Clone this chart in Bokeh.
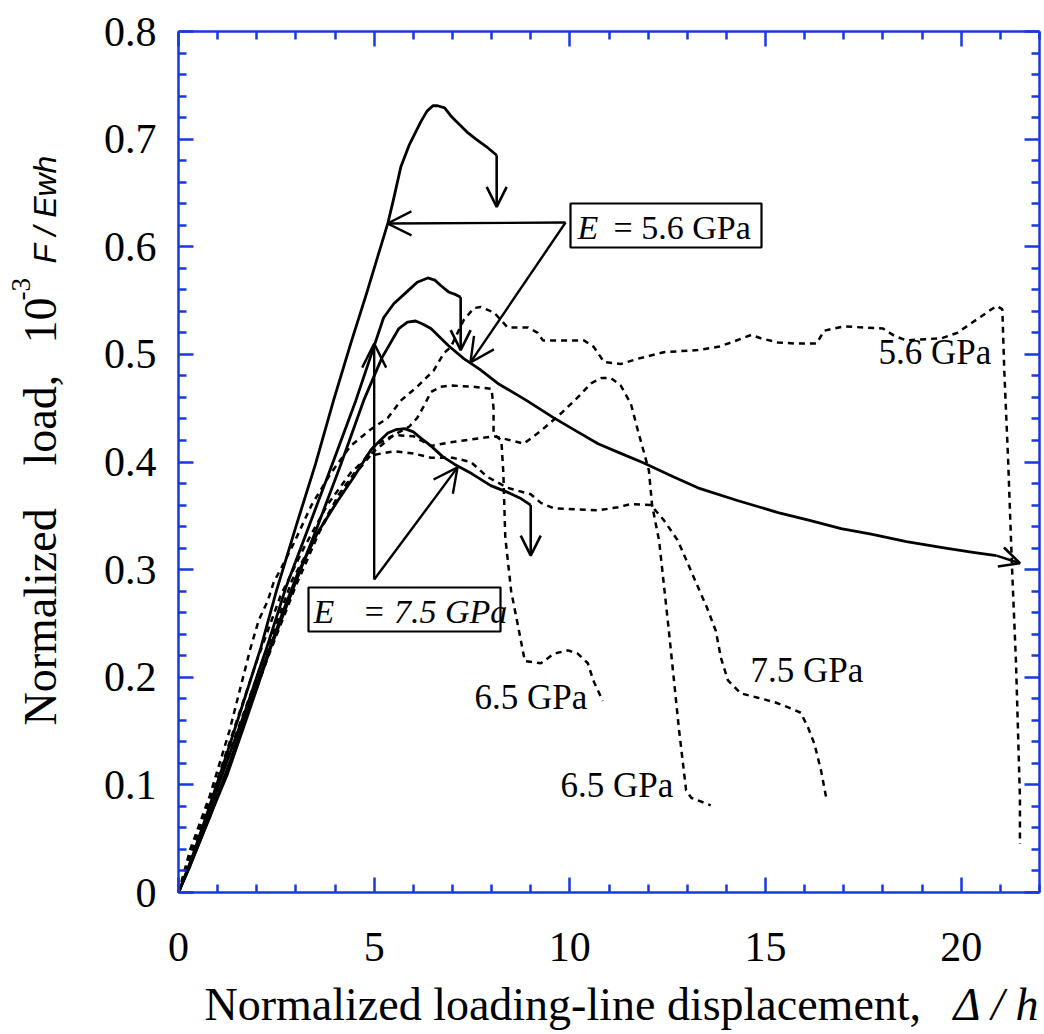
import math
from bokeh.plotting import figure
from bokeh.models import (LinearAxis, FixedTicker, Arrow, OpenHead, Label,
                          BoxAnnotation, Range1d)
from bokeh.embed import file_html
from bokeh.resources import INLINE

# ---------------- data ----------------
# solid curves
s1_x = [0, 0.3, 0.7, 1.2, 1.6, 2.1, 2.5, 3.0, 3.5, 3.96, 4.4, 4.8, 5.1, 5.35, 5.5, 5.68, 5.9, 6.19, 6.35, 6.5, 6.62, 6.8, 6.95, 7.08, 7.25, 7.39, 7.6, 7.9, 8.13]
s1_y = [0, 0.028, 0.07, 0.125, 0.17, 0.227, 0.28, 0.34, 0.398, 0.457, 0.51, 0.556, 0.592, 0.622, 0.645, 0.674, 0.695, 0.716, 0.726, 0.731, 0.731, 0.729, 0.722, 0.717, 0.711, 0.706, 0.700, 0.692, 0.685]

s2_x = [0, 0.3, 0.7, 1.2, 1.7, 2.25, 2.75, 3.35, 3.95, 4.53, 4.9, 5.24, 5.5, 5.86, 6.1, 6.37, 6.55, 6.7, 6.9, 7.05, 7.21]
s2_y = [0, 0.027, 0.066, 0.118, 0.168, 0.227, 0.284, 0.342, 0.4, 0.457, 0.497, 0.534, 0.547, 0.559, 0.567, 0.571, 0.569, 0.564, 0.558, 0.556, 0.553]

s3_x = [0, 0.3, 0.7, 1.25, 1.8, 2.35, 2.95, 3.55, 4.15, 4.73, 5.2, 5.63, 5.85, 6.06, 6.25, 6.45, 6.9, 7.29, 7.7, 8.16, 8.9, 9.59, 10.2, 10.72, 11.3, 11.89, 12.6, 13.27, 14.3, 15.32, 16.1, 16.93, 17.7, 18.6, 19.6, 20.3, 20.9]
s3_y = [0, 0.025, 0.062, 0.11, 0.168, 0.227, 0.284, 0.34, 0.398, 0.457, 0.497, 0.524, 0.53, 0.531, 0.528, 0.524, 0.508, 0.496, 0.486, 0.473, 0.457, 0.441, 0.428, 0.417, 0.408, 0.399, 0.387, 0.376, 0.364, 0.353, 0.346, 0.338, 0.333, 0.326, 0.320, 0.316, 0.313]

s4_x = [0, 0.35, 0.8, 1.3, 1.85, 2.4, 2.65, 3.04, 3.55, 4.07, 4.48, 4.91, 5.15, 5.35, 5.55, 5.78, 6.0, 6.2, 6.45, 6.75, 7.05, 7.5, 7.98, 8.4, 8.75, 9.0]
s4_y = [0, 0.03, 0.07, 0.12, 0.178, 0.234, 0.259, 0.296, 0.334, 0.364, 0.386, 0.411, 0.42, 0.427, 0.43, 0.431, 0.428, 0.422, 0.415, 0.405, 0.398, 0.389, 0.378, 0.372, 0.366, 0.36]

# dashed curves
dA_x = [0, 0.3, 0.8, 1.3, 1.84, 2.05, 2.28, 2.43, 2.69, 2.94, 3.4, 3.9, 4.4, 4.9, 5.35, 5.68, 6.1, 6.52, 6.78, 6.96, 7.13, 7.29, 7.55, 7.72, 8.06, 8.41, 8.93, 9.18, 9.31, 10.36, 10.61, 10.87, 11.3, 11.74, 12.4, 13.27, 13.79, 14.12, 14.63, 14.88, 15.32, 15.8, 16.3, 16.5, 17.0, 18.0, 18.3, 18.6, 19.5, 19.9, 20.5, 20.9, 21.05, 21.1, 21.2, 21.3, 21.4, 21.5, 21.5]
dA_y = [0, 0.04, 0.09, 0.15, 0.227, 0.253, 0.271, 0.288, 0.306, 0.324, 0.36, 0.39, 0.415, 0.43, 0.441, 0.457, 0.47, 0.485, 0.501, 0.507, 0.52, 0.532, 0.543, 0.544, 0.539, 0.525, 0.525, 0.52, 0.513, 0.513, 0.507, 0.493, 0.491, 0.496, 0.502, 0.504, 0.507, 0.511, 0.518, 0.515, 0.511, 0.51, 0.51, 0.522, 0.526, 0.524, 0.517, 0.513, 0.515, 0.52, 0.535, 0.545, 0.542, 0.485, 0.40, 0.30, 0.213, 0.088, 0.045]

dB_x = [0, 0.4, 0.9, 1.4, 2.0, 2.6, 3.2, 3.8, 4.4, 5.0, 5.5, 5.9, 6.1, 6.27, 6.45, 6.7, 7.0, 7.5, 8.0, 8.05, 8.05, 8.25, 8.3, 8.35, 8.5, 8.7, 8.85, 9.26, 9.6, 9.95, 10.2, 10.46, 10.6, 10.84]
dB_y = [0, 0.045, 0.095, 0.15, 0.215, 0.275, 0.32, 0.36, 0.39, 0.41, 0.425, 0.433, 0.441, 0.452, 0.465, 0.47, 0.471, 0.47, 0.468, 0.45, 0.426, 0.42, 0.39, 0.33, 0.28, 0.243, 0.215, 0.213, 0.222, 0.225, 0.222, 0.213, 0.197, 0.178]

dC_x = [0, 0.45, 1.0, 1.6, 2.2, 2.9, 3.5, 4.1, 4.6, 5.0, 5.5, 6.0, 6.45, 6.9, 7.29, 7.7, 8.06, 8.5, 8.82, 9.26, 9.77, 10.2, 10.54, 10.8, 11.05, 11.3, 11.56, 11.74, 11.9, 12.02, 12.1, 12.28, 12.53, 12.79, 12.97, 13.1, 13.6]
dC_y = [0, 0.045, 0.1, 0.16, 0.22, 0.29, 0.33, 0.37, 0.395, 0.415, 0.425, 0.424, 0.415, 0.418, 0.42, 0.422, 0.424, 0.42, 0.417, 0.429, 0.445, 0.46, 0.473, 0.478, 0.478, 0.471, 0.454, 0.429, 0.408, 0.392, 0.36, 0.327, 0.243, 0.151, 0.095, 0.088, 0.081]

dD_x = [0, 0.5, 1.1, 1.7, 2.3, 3.0, 3.6, 4.2, 4.9, 5.5, 6.0, 6.45, 7.0, 7.47, 7.9, 8.41, 9.0, 9.26, 9.59, 10.2, 10.72, 11.23, 11.56, 12.07, 12.4, 12.76, 13.2, 13.5, 13.73, 13.86, 14.04, 14.37, 14.8, 15.22, 15.65, 15.9, 16.09, 16.25, 16.42, 16.55]
dD_y = [0, 0.045, 0.1, 0.16, 0.22, 0.285, 0.335, 0.375, 0.406, 0.41, 0.408, 0.404, 0.404, 0.40, 0.386, 0.376, 0.37, 0.362, 0.357, 0.356, 0.355, 0.358, 0.361, 0.36, 0.346, 0.327, 0.29, 0.265, 0.243, 0.218, 0.197, 0.185, 0.181, 0.177, 0.171, 0.167, 0.153, 0.138, 0.113, 0.088]

# arrows at curve ends (x_start, y_start, x_end, y_end)
end_arrows = [(8.13, 0.685, 8.13, 0.637),
              (7.21, 0.553, 7.21, 0.504),
              (9.0, 0.36, 9.0, 0.313),
              (20.9, 0.313, 21.5, 0.306)]
# annotation arrows
note_arrows = [(9.89, 0.6225, 5.34, 0.6216),
               (9.89, 0.6225, 7.46, 0.4925),
               (5.0, 0.2908, 5.0, 0.510),
               (5.0, 0.2908, 7.13, 0.395)]

curve_labels = ["5.6 GPa", "7.5 GPa", "6.5 GPa", "6.5 GPa"]

x_ticks = [0, 5, 10, 15, 20]
y_ticks = [0, 0.1, 0.2, 0.3, 0.4, 0.5, 0.6, 0.7, 0.8]

# ---------------- layout helpers (pixel placement) ----------------
W, H = 1044, 1034
FX0, FX1 = 178.0, 1039.0     # frame of the axes in canvas pixels
FY0, FY1 = 31.0, 892.0
XMAX, YMAX = 22.0, 0.8
PXU = (FX1 - FX0) / XMAX
PYU = (FY1 - FY0) / YMAX


def dx(px):
    return (px - FX0) / PXU


def dy(py):
    return (FY1 - py) / PYU


BLUE = "#1838e0"
SERIF = "Liberation Serif"

p = figure(width=W, height=H, output_backend="svg", toolbar_location=None,
           x_range=Range1d(dx(0), dx(W)), y_range=Range1d(dy(H), dy(0)),
           x_axis_location=None, y_axis_location=None,
           min_border=0, min_border_left=0, min_border_right=0,
           min_border_top=0, min_border_bottom=0)
p.grid.visible = False
p.outline_line_color = None
p.background_fill_color = "white"
p.border_fill_color = "white"

x_minor = [i for i in range(0, 23) if i % 5 != 0]
y_minor = [round(i * 0.02, 2) for i in range(0, 41) if i % 5 != 0]


def make_axis(ticks, minor, loc, bounds, labels):
    ax = LinearAxis(fixed_location=loc, bounds=bounds)
    ax.ticker = FixedTicker(ticks=ticks, minor_ticks=minor)
    ax.axis_line_color = BLUE
    ax.axis_line_width = 2.5
    ax.major_tick_line_color = BLUE
    ax.major_tick_line_width = 2.5
    ax.minor_tick_line_color = BLUE
    ax.minor_tick_line_width = 2.5
    ax.major_tick_in = 15
    ax.major_tick_out = 0
    ax.minor_tick_in = 8
    ax.minor_tick_out = 0
    ax.axis_label = None
    ax.major_label_text_font = SERIF
    ax.major_label_text_font_size = "42px"
    ax.major_label_text_color = "black"
    if not labels:
        ax.major_label_overrides = {t: "" for t in ticks}
        ax.major_label_standoff = 0
    return ax


bx = make_axis(x_ticks, x_minor, 0, (0, XMAX), True)
bx.major_label_standoff = 40
p.add_layout(bx, "below")
ly = make_axis(y_ticks, y_minor, 0, (0, YMAX), True)
ly.major_label_standoff = 22
ly.major_label_overrides = {0: "0"}
p.add_layout(ly, "left")
p.add_layout(make_axis(x_ticks, x_minor, YMAX, (0, XMAX), False), "above")
p.add_layout(make_axis(y_ticks, y_minor, XMAX, (0, YMAX), False), "right")

# curves
for xs, ys in [(s1_x, s1_y), (s2_x, s2_y), (s3_x, s3_y), (s4_x, s4_y)]:
    p.line(xs, ys, line_color="black", line_width=2.8, line_join="round")
for xs, ys in [(dA_x, dA_y), (dB_x, dB_y), (dC_x, dC_y), (dD_x, dD_y)]:
    p.line(xs, ys, line_color="black", line_width=2.5, line_dash="6 5")

for (xs, ys, xe, ye) in end_arrows:
    p.add_layout(Arrow(end=OpenHead(size=20, line_width=2.6, line_color="black"),
                       x_start=xs, y_start=ys, x_end=xe, y_end=ye,
                       line_width=2.6, line_color="black"))
for (xs, ys, xe, ye) in note_arrows:
    p.add_layout(Arrow(end=OpenHead(size=24, line_width=2.4, line_color="black"),
                       x_start=xs, y_start=ys, x_end=xe, y_end=ye,
                       line_width=2.4, line_color="black"))

# annotation boxes (pixel extents of the reference)
p.add_layout(BoxAnnotation(left=dx(570), right=dx(761), bottom=dy(247), top=dy(203),
                           fill_color=None, line_color="black", line_alpha=1.0,
                           line_width=2.2))
p.add_layout(BoxAnnotation(left=dx(308), right=dx(500), bottom=dy(631), top=dy(587),
                           fill_color=None, line_color="black", line_alpha=1.0,
                           line_width=2.2))

BASE_FIX = 0.28  # em: compensation for where the text baseline is drawn


def lab(text, px, py, size, style="normal", font=SERIF, rotated=False):
    fs = float(size.replace("px", ""))
    if rotated:
        px = px - BASE_FIX * fs
    else:
        py = py - BASE_FIX * fs
    p.add_layout(Label(x=dx(px), y=dy(py), text=text, text_font=font,
                       text_font_size=size, text_font_style=style,
                       text_color="black", angle=(math.pi / 2 if rotated else 0.0),
                       text_align="left", text_baseline="alphabetic"))


lab("E", 577, 237, "34px", "italic")
lab("= 5.6 GPa", 613, 237, "34px")
lab("E", 313, 621, "34px", "italic")
lab("= 7.5 GPa", 362, 621, "34px", "italic")

for t, (px, py) in zip(curve_labels, [(878, 362), (750, 680), (474, 707), (560, 795)]):
    lab(t, px, py, "35px")

# axis titles
lab("Normalized loading-line displacement,", 204, 1017, "46px")
lab("\u0394 / h", 953, 1017, "46px", "italic")
lab("Normalized", 53, 725, "46px", rotated=True)
lab("load,", 53, 465, "46px", rotated=True)
lab("10", 53, 343, "46px", rotated=True)
lab("-3", 28, 300, "27px", rotated=True)
lab("F / Ewh", 53, 263, "32px", "italic", font="Liberation Sans", rotated=True)

open("out.html", "w").write(file_html(p, INLINE))
